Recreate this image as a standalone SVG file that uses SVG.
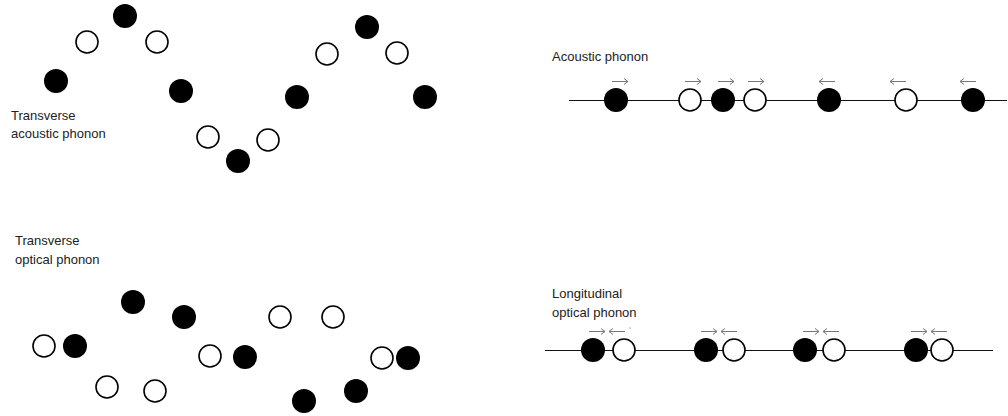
<svg xmlns="http://www.w3.org/2000/svg" width="1008" height="416" viewBox="0 0 1008 416">
  <style>
    .label { font-family: "Liberation Sans", Arial, sans-serif; font-size: 13px; fill: #222; }
    .full { fill: #000; }
    .empty { fill: #fff; stroke: #000; stroke-width: 1.6; }
    .chain { stroke: #111; stroke-width: 1; fill: none; }
    .push { stroke: #777; stroke-width: 1; fill: none; }
  </style>
  <defs>
    <circle id="atomA" r="12" class="full"/>
    <circle id="atomB" r="11" class="empty"/>
    <!-- displacement arrows: shaft plus a small open head -->
    <path id="toRight" d="M -8 0 H 8 M 4 -3 L 8 0 L 4 3" class="push"/>
    <path id="toLeft" d="M 8 0 H -8 M -4 -3 L -8 0 L -4 3" class="push"/>
  </defs>

  <rect width="1008" height="416" fill="#fff"/>

  <!-- Transverse acoustic phonon -->
  <g id="transverse-acoustic">
    <text class="label" x="11" y="120">Transverse</text>
    <text class="label" x="11" y="138">acoustic phonon</text>
    <g id="ta-atoms">
      <use href="#atomA" x="56" y="81"/>
      <use href="#atomB" x="87" y="42"/>
      <use href="#atomA" x="125" y="16"/>
      <use href="#atomB" x="157" y="42"/>
      <use href="#atomA" x="181" y="91"/>
      <use href="#atomB" x="208" y="137"/>
      <use href="#atomA" x="238" y="161"/>
      <use href="#atomB" x="268" y="140"/>
      <use href="#atomA" x="297" y="97"/>
      <use href="#atomB" x="327" y="54"/>
      <use href="#atomA" x="367" y="27"/>
      <use href="#atomB" x="397" y="53"/>
      <use href="#atomA" x="425" y="97"/>
    </g>
  </g>

  <!-- Transverse optical phonon -->
  <g id="transverse-optical">
    <text class="label" x="15" y="245">Transverse</text>
    <text class="label" x="15" y="264">optical phonon</text>
    <g id="to-atoms">
      <use href="#atomB" x="44" y="346"/>
      <use href="#atomA" x="75" y="346"/>
      <use href="#atomB" x="107" y="387"/>
      <use href="#atomA" x="133" y="302"/>
      <use href="#atomB" x="155" y="391"/>
      <use href="#atomA" x="184" y="317"/>
      <use href="#atomB" x="210" y="356"/>
      <use href="#atomA" x="245" y="357"/>
      <use href="#atomB" x="280" y="317"/>
      <use href="#atomA" x="304" y="401"/>
      <use href="#atomB" x="333" y="317"/>
      <use href="#atomA" x="356" y="391"/>
      <use href="#atomB" x="382" y="358"/>
      <use href="#atomA" x="408" y="358"/>
    </g>
  </g>

  <!-- Longitudinal acoustic phonon -->
  <g id="acoustic">
    <text class="label" x="552" y="61">Acoustic phonon</text>
    <line class="chain" x1="569" y1="100.5" x2="1007" y2="100.5"/>
    <g id="la-atoms">
      <use href="#atomA" x="616" y="100"/>
      <use href="#atomB" x="690" y="100"/>
      <use href="#atomA" x="723" y="100"/>
      <use href="#atomB" x="755" y="100"/>
      <use href="#atomA" x="829" y="100"/>
      <use href="#atomB" x="906" y="100"/>
      <use href="#atomA" x="973" y="100"/>
    </g>
    <g id="la-arrows">
      <use href="#toRight" x="620" y="81.5"/>
      <use href="#toRight" x="693" y="81.5"/>
      <use href="#toRight" x="726" y="81.5"/>
      <use href="#toRight" x="756" y="81.5"/>
      <use href="#toLeft" x="827" y="81.5"/>
      <use href="#toLeft" x="898" y="81.5"/>
      <use href="#toLeft" x="968" y="81.5"/>
    </g>
  </g>

  <!-- Longitudinal optical phonon -->
  <g id="longitudinal-optical">
    <text class="label" x="552" y="298">Longitudinal</text>
    <text class="label" x="552" y="317">optical phonon</text>
    <line class="chain" x1="545" y1="350.5" x2="993" y2="350.5"/>
    <g id="lo-atoms">
      <use href="#atomA" x="593" y="350"/>
      <use href="#atomB" x="624" y="350"/>
      <use href="#atomA" x="706" y="350"/>
      <use href="#atomB" x="734" y="350"/>
      <use href="#atomA" x="805" y="350"/>
      <use href="#atomB" x="834" y="350"/>
      <use href="#atomA" x="916" y="350"/>
      <use href="#atomB" x="942" y="350"/>
    </g>
    <g id="lo-arrows">
      <use href="#toRight" x="597" y="331.5"/>
      <use href="#toLeft" x="617" y="331.5"/>
      <circle cx="630" cy="328" r="0.7" fill="#999"/>
      <use href="#toRight" x="709" y="331.5"/>
      <use href="#toLeft" x="729" y="331.5"/>
      <use href="#toRight" x="811" y="331.5"/>
      <use href="#toLeft" x="831" y="331.5"/>
      <use href="#toRight" x="919" y="331.5"/>
      <use href="#toLeft" x="939" y="331.5"/>
    </g>
  </g>
</svg>
